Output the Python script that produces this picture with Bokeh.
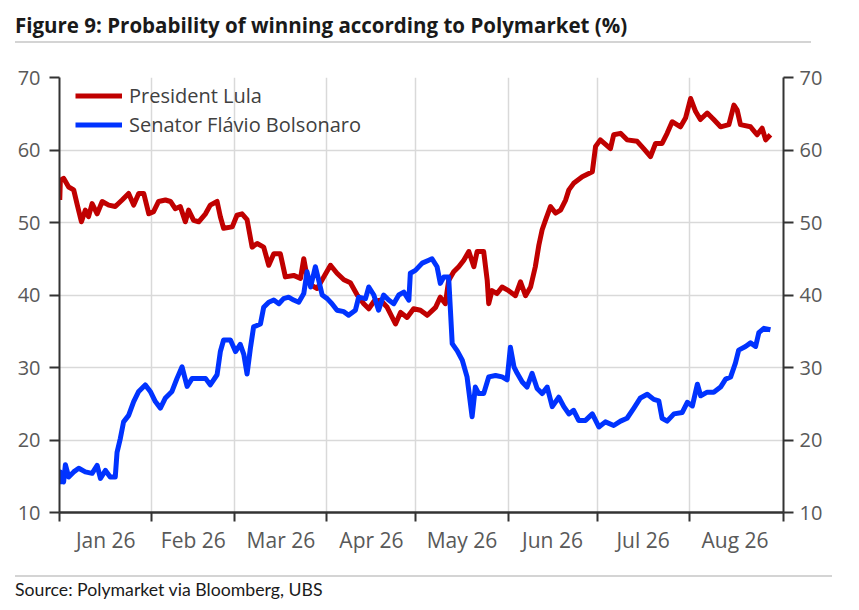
import pandas as pd
from bokeh.plotting import figure
from bokeh.models import Range1d, LinearAxis, FixedTicker, DatetimeTickFormatter, Div
from bokeh.layouts import column
from bokeh.embed import file_html
from bokeh.resources import INLINE

TITLE = "Figure 9: Probability of winning according to Polymarket (%)"
SOURCE = "Source: Polymarket via Bloomberg, UBS"
BASE_DATE = "2026-01-01"
END_DAY = 243.8

# days since 1 Jan 2026 and probability (%)
lula_days = [0, 0.2, 1.3, 3.0, 4.7, 5.8, 7.3, 8.6, 9.7, 10.9,
             12.6, 14.3, 16.5, 18.7, 21.0, 23.2, 24.9, 26.6, 28.3, 30.0,
             31.6, 33.3, 35.6, 37.3, 38.9, 40.6, 42.3, 43.4, 45.1, 46.8,
             49.1, 50.7, 53.0, 54.1, 55.2, 58.1, 59.7, 61.4, 63.1, 64.8,
             66.5, 68.7, 70.4, 72.1, 74.3, 76.0, 78.8, 81.1, 82.2, 83.3,
             85.0, 86.7, 88.4, 91.2, 93.4, 95.7, 97.9, 100.2, 102.4, 104.1,
             105.8, 108.0, 110.3, 113.1, 114.8, 117.0, 119.2, 121.5, 123.8, 126.6,
             128.2, 129.9, 131.0, 132.7, 134.4, 136.1, 137.8, 139.5, 140.6, 142.8,
             144.0, 144.5, 145.6, 147.3, 149.0, 151.2, 153.5, 155.2, 156.9, 158.6,
             160.2, 161.4, 162.5, 163.6, 165.3, 167.0, 168.7, 170.4, 171.5, 173.1,
             176.0, 179.4, 180.5, 182.1, 185.5, 186.6, 188.9, 191.1, 194.5, 196.7,
             199.0, 200.7, 202.9, 204.6, 206.3, 209.1, 210.8, 212.5, 214.2, 215.8,
             218.1, 220.3, 222.6, 225.4, 227.1, 228.2, 229.3, 232.7, 234.9, 236.6,
             237.8, 239.4]
lula_vals = [53.1, 55.8, 56.1, 54.9, 54.5, 52.6, 50.1, 51.7, 50.8, 52.6,
             51.2, 52.9, 52.4, 52.2, 53.1, 54.0, 52.4, 54.0, 54.0, 51.2,
             51.5, 52.9, 53.1, 52.9, 51.9, 52.2, 50.1, 51.7, 50.3, 50.1,
             51.2, 52.4, 52.9, 50.8, 49.2, 49.4, 51.0, 51.2, 50.4, 46.6,
             47.1, 46.6, 44.1, 45.7, 45.7, 42.5, 42.7, 42.3, 45.0, 42.5,
             41.3, 40.9, 42.1, 44.1, 43.0, 42.1, 41.7, 40.0, 38.8, 38.1,
             39.1, 39.3, 38.3, 36.0, 37.6, 36.9, 38.1, 37.9, 37.2, 38.3,
             39.7, 38.8, 42.0, 43.2, 43.9, 44.8, 46.0, 43.9, 46.0, 46.0,
             42.0, 38.8, 40.6, 40.2, 41.1, 40.6, 39.9, 41.8, 39.9, 41.1,
             43.9, 46.9, 49.0, 50.3, 52.2, 51.3, 51.7, 53.1, 54.5, 55.4,
             56.3, 57.0, 60.5, 61.4, 60.2, 62.1, 62.3, 61.4, 61.2, 60.2,
             59.1, 60.9, 60.9, 62.3, 63.9, 63.2, 64.4, 67.1, 65.3, 64.2,
             65.1, 64.2, 63.2, 63.5, 66.2, 65.5, 63.5, 63.2, 62.1, 63.0,
             61.4, 62.1]

flavio_days = [0, 0.2, 1.3, 1.9, 3.0, 4.7, 6.4, 8.6, 10.9, 12.6,
               13.7, 15.4, 17.0, 18.7, 19.3, 20.4, 21.5, 23.2, 24.9, 26.6,
               28.8, 30.5, 32.2, 33.9, 35.6, 37.8, 39.5, 41.2, 42.9, 44.6,
               46.8, 49.1, 50.7, 53.0, 54.1, 55.2, 57.5, 59.2, 60.8, 62.0,
               63.1, 64.2, 65.3, 67.6, 68.7, 70.4, 72.1, 73.8, 75.4, 77.1,
               78.8, 80.5, 82.2, 83.3, 84.5, 86.1, 87.2, 88.4, 90.1, 91.7,
               93.4, 95.7, 97.3, 99.6, 100.7, 103.0, 104.1, 105.8, 107.4, 109.1,
               110.8, 112.5, 114.2, 115.9, 117.6, 118.1, 119.8, 122.1, 124.3, 125.4,
               127.1, 128.2, 129.4, 131.0, 131.6, 132.2, 133.9, 135.6, 137.2, 138.9,
               140.0, 141.1, 142.8, 144.5, 146.8, 149.0, 150.7, 151.8, 153.0, 154.1,
               155.8, 157.4, 159.1, 160.8, 162.5, 164.2, 165.9, 168.1, 169.8, 171.5,
               173.1, 174.8, 177.1, 179.4, 181.6, 183.8, 186.6, 188.9, 191.1, 193.4,
               195.6, 197.9, 200.1, 201.8, 202.9, 204.6, 206.9, 209.7, 211.4, 213.1,
               214.8, 215.9, 218.1, 220.3, 222.6, 224.3, 226.0, 227.6, 228.7, 231.0,
               232.7, 234.4, 235.5, 237.2, 239.4]
flavio_vals = [13.9, 15.6, 14.2, 16.6, 14.9, 15.6, 16.1, 15.6, 15.4, 16.5,
               14.7, 15.8, 14.9, 14.9, 18.3, 20.2, 22.5, 23.4, 25.3, 26.7,
               27.6, 26.7, 25.3, 24.4, 25.8, 26.7, 28.5, 30.1, 27.4, 28.5,
               28.5, 28.5, 27.6, 29.0, 32.2, 33.8, 33.8, 32.2, 33.2, 31.8,
               29.1, 32.6, 35.6, 36.0, 38.3, 39.0, 39.3, 38.8, 39.5, 39.7,
               39.3, 39.0, 40.2, 43.2, 41.1, 43.9, 42.1, 40.0, 39.5, 38.8,
               37.9, 37.7, 37.2, 37.9, 39.7, 39.5, 41.1, 40.0, 37.9, 40.0,
               39.3, 38.8, 40.0, 40.4, 39.3, 43.0, 43.4, 44.4, 44.8, 45.0,
               43.9, 41.6, 42.5, 42.5, 37.9, 33.3, 32.3, 31.0, 28.7, 23.2,
               27.3, 26.4, 26.4, 28.7, 28.9, 28.7, 28.3, 32.8, 30.1, 29.2,
               28.0, 27.3, 29.2, 27.1, 26.4, 27.3, 24.6, 25.9, 24.6, 23.6,
               24.1, 22.7, 22.7, 23.6, 21.8, 22.5, 22.0, 22.6, 23.0, 24.4,
               25.8, 26.3, 25.6, 25.4, 23.0, 22.6, 23.6, 23.8, 25.2, 24.7,
               27.7, 26.1, 26.6, 26.6, 27.3, 28.4, 28.7, 30.6, 32.4, 32.9,
               33.4, 32.9, 34.8, 35.4, 35.2]

series_names = ["President Lula", "Senator Flávio Bolsonaro"]
series_colors = ["#C00000", "#0033FF"]
y_ticks = [10, 20, 30, 40, 50, 60, 70]
y_grid = [20, 30, 40, 50, 60]
month_label_format = "%b %y"

base = pd.Timestamp(BASE_DATE)


def to_ms(ts):
    return ts.value / 1e6


lula_x = base + pd.to_timedelta(lula_days, unit="D")
flavio_x = base + pd.to_timedelta(flavio_days, unit="D")

month_starts = pd.date_range(BASE_DATE, periods=8, freq="MS")
month_next = pd.date_range("2026-02-01", periods=8, freq="MS")
month_mids = [s + (e - s) / 2 for s, e in zip(month_starts, month_next)]
x_start = base - pd.Timedelta(hours=2)
x_end = base + pd.Timedelta(days=END_DAY)

major_ticks = [to_ms(t) for t in month_mids]
minor_ticks = [to_ms(t) for t in month_starts] + [to_ms(x_end)]
grid_ticks = [to_ms(t) for t in month_starts[1:]]

p = figure(width=859, height=532, x_axis_type="datetime",
           x_range=Range1d(to_ms(x_start), to_ms(x_end)),
           y_range=Range1d(10, 70),
           output_backend="svg", toolbar_location=None,
           min_border_left=59, min_border_right=76,
           min_border_top=34, min_border_bottom=63, margin=0)
p.outline_line_color = None
p.background_fill_color = "white"
p.border_fill_color = "white"

p.line(lula_x, lula_vals, color=series_colors[0], line_width=5,
       line_join="round", legend_label=series_names[0])
p.line(flavio_x, flavio_vals, color=series_colors[1], line_width=5,
       line_join="round", legend_label=series_names[1])

# x axis
xa = p.xaxis[0]
xa.ticker = FixedTicker(ticks=major_ticks, minor_ticks=minor_ticks)
fmt = month_label_format
xa.formatter = DatetimeTickFormatter(microseconds=fmt, milliseconds=fmt, seconds=fmt,
                                     minsec=fmt, minutes=fmt, hourmin=fmt, hours=fmt,
                                     days=fmt, months=fmt, years=fmt)
xa.major_tick_line_color = None
xa.minor_tick_line_color = "#333333"
xa.minor_tick_line_width = 2
xa.minor_tick_in = 0
xa.minor_tick_out = 9
xa.axis_line_color = "#333333"
xa.axis_line_width = 2.5
xa.major_label_text_font = "Open Sans"
xa.major_label_text_font_size = "21px"
xa.major_label_text_color = "#595959"
xa.major_label_standoff = 4

# y axes
ya = p.yaxis[0]
ra = LinearAxis()
p.add_layout(ra, "right")
for ax in (ya, ra):
    ax.ticker = FixedTicker(ticks=y_ticks)
    ax.axis_line_color = "#333333"
    ax.axis_line_width = 2
    ax.major_tick_line_color = "#333333"
    ax.major_tick_line_width = 2
    ax.major_tick_in = 0
    ax.major_tick_out = 10
    ax.minor_tick_line_color = None
    ax.major_label_text_font = "Open Sans"
    ax.major_label_text_font_size = "20px"
    ax.major_label_text_color = "#595959"
ya.major_label_standoff = 9
ra.major_label_standoff = 6

# grids
p.xgrid.ticker = FixedTicker(ticks=grid_ticks)
p.ygrid.ticker = FixedTicker(ticks=y_grid)
for g in (p.xgrid[0], p.ygrid[0]):
    g.grid_line_color = "#D9D9D9"
    g.grid_line_width = 1.5

# legend (tuple location = offset of the legend's bottom-left from the frame's bottom-left)
lg = p.legend[0]
lg.location = (16, 373)
lg.background_fill_alpha = 0
lg.border_line_color = None
lg.padding = 0
lg.margin = 0
lg.spacing = 0
lg.glyph_width = 47
lg.glyph_height = 29
lg.label_height = 29
lg.label_standoff = 7
lg.label_text_font = "Open Sans"
lg.label_text_font_size = "20px"
lg.label_text_color = "#404040"

title_div = Div(
    text=('<div style="box-sizing:border-box;width:796px;margin-left:15px;height:43px;'
          'padding-top:13px;border-bottom:2px solid #D4D4D4;font-family:\'Open Sans\';'
          'font-weight:bold;font-size:20.5px;line-height:24px;color:#1a1a1a;'
          'white-space:nowrap">' + TITLE + '</div>'),
    width=859, height=43, margin=0)
source_div = Div(
    text=('<div style="box-sizing:border-box;width:817px;margin-left:15px;height:30px;'
          'padding-top:3px;border-top:2px solid #D4D4D4;font-family:Lato;'
          'font-size:17.7px;line-height:20px;color:#1a1a1a;white-space:nowrap">'
          + SOURCE + '</div>'),
    width=859, height=30, margin=0)

layout = column(title_div, p, source_div, spacing=0, margin=0)

open("out.html", "w").write(file_html(layout, INLINE))
